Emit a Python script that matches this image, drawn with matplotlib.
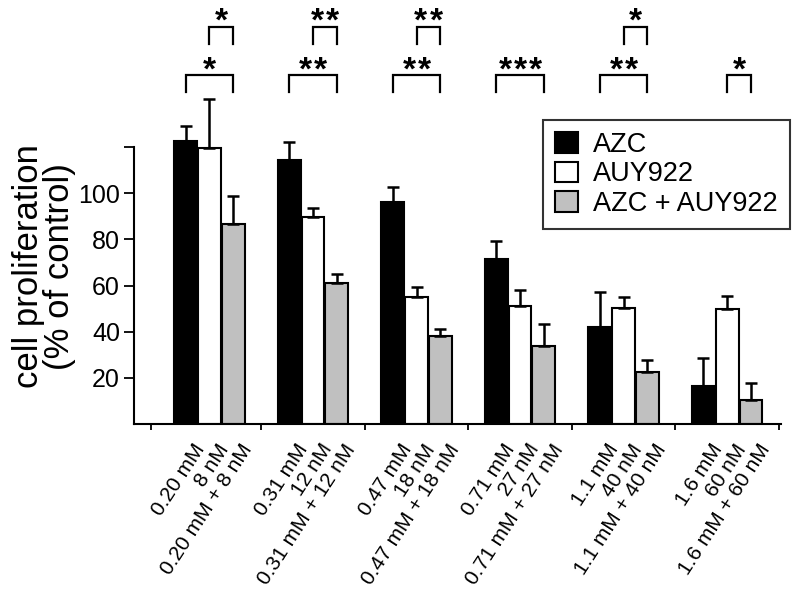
import numpy as np
import matplotlib
matplotlib.use("Agg")
import matplotlib.pyplot as plt
from matplotlib.transforms import ScaledTranslation

plt.rcParams['font.family'] = ['Liberation Sans', 'DejaVu Sans']

# data
series = ['AZC', 'AUY922', 'AZC + AUY922']
azc_mM = ['0.20 mM', '0.31 mM', '0.47 mM', '0.71 mM', '1.1 mM', '1.6 mM']
auy_nM = ['8 nM', '12 nM', '18 nM', '27 nM', '40 nM', '60 nM']
azc_mean = [122.8, 114.4, 96.2, 71.4, 41.9, 16.4]
azc_err = [6.4, 8.0, 6.7, 7.9, 15.3, 12.1]
auy_mean = [119.5, 89.7, 55.1, 51.1, 50.4, 49.8]
auy_err = [21.5, 3.9, 4.4, 6.9, 4.7, 5.6]
combo_mean = [86.7, 61.2, 38.1, 33.8, 22.5, 10.5]
combo_err = [12.1, 3.7, 2.9, 9.5, 5.2, 7.1]
yticks = [20, 40, 60, 80, 100, 120]
yticklabels = ['20', '40', '60', '80', '100', '']

# significance: (group, from bar, to bar, row, number of stars)   bars: 0 AZC, 1 AUY, 2 combo
sig = [
    (0, 1, 2, 1, 1), (0, 0, 2, 0, 1),
    (1, 1, 2, 1, 2), (1, 0, 2, 0, 2),
    (2, 1, 2, 1, 2), (2, 0, 2, 0, 2),
    (3, 0, 2, 0, 3),
    (4, 1, 2, 1, 1), (4, 0, 2, 0, 2),
    (5, 1, 2, 0, 1),
]


def plot_proliferation():
    fig = plt.figure(figsize=(8, 5.97), dpi=100)
    ax = fig.add_axes([0.1675, 0.29, 0.8088, 0.71])

    x = np.arange(len(azc_mM))
    width = 0.22
    offs = [-0.23, 0.0, 0.23]
    means = [azc_mean, auy_mean, combo_mean]
    errs = [azc_err, auy_err, combo_err]
    colors = ['black', 'white', '#c0c0c0']

    for k in range(3):
        e = np.array(errs[k])
        ax.bar(x + offs[k], means[k], width, color=colors[k], edgecolor='black',
               linewidth=1.5, label=series[k],
               yerr=[np.zeros_like(e), e], error_kw=dict(ecolor='black', elinewidth=1.8,
                                                          capsize=4.5, capthick=1.8),
               zorder=2)

    # brackets and stars
    rows = [151.3, 172.3]
    leg = 7.5
    step = 0.145
    for g, a, b, row, n in sig:
        x0, x1 = g + offs[a], g + offs[b]
        yb = rows[row]
        ax.plot([x0, x0, x1, x1], [yb - leg, yb, yb, yb - leg], color='black',
                lw=1.6, clip_on=False, solid_joinstyle='miter')
        xm = (x0 + x1) / 2
        for j in range(n):
            ax.text(xm + (j - (n - 1) / 2) * step, yb - 1.9, '*', ha='center',
                    va='baseline', fontsize=24, fontweight='bold', clip_on=False)

    ax.set_xlim(-0.728, 5.52)
    ax.set_ylim(0, 183.8)

    for s in ['top', 'right']:
        ax.spines[s].set_visible(False)
    ax.spines['left'].set_bounds(0, 120)
    ax.spines['left'].set_linewidth(1.5)
    ax.spines['bottom'].set_linewidth(1.5)

    ax.set_yticks(yticks)
    ax.set_yticklabels(yticklabels, fontsize=18)
    ax.tick_params(axis='y', length=7, width=1.3, pad=3)

    # group boundaries as major ticks, bar labels as minor ticks
    ax.set_xticks([-0.567, 0.5, 1.5, 2.5, 3.5, 4.5, 5.5])
    ax.set_xticklabels([])
    ax.tick_params(axis='x', which='major', length=4.5, width=1.3)

    pos, labs = [], []
    for i in range(len(azc_mM)):
        pos += [i + offs[0], i + offs[1], i + offs[2]]
        labs += [azc_mM[i], auy_nM[i], azc_mM[i] + ' + ' + auy_nM[i]]
    ax.set_xticks(pos, minor=True)
    ax.set_xticklabels(labs, minor=True, fontsize=15, rotation=57,
                       ha='right', va='top', rotation_mode='anchor')
    ax.tick_params(axis='x', which='minor', length=0, pad=12)
    shift = ScaledTranslation(0.07, 0, fig.dpi_scale_trans)
    for lab in ax.get_xticklabels(minor=True):
        lab.set_transform(lab.get_transform() + shift)

    fig.text(0.055, 0.554, 'cell proliferation\n(% of control)', rotation=90,
             ha='center', va='center', fontsize=25, linespacing=0.9)

    lg = ax.legend(loc='upper right', bbox_to_anchor=(1.014, 0.717), borderaxespad=0,
                   fontsize=19.5, frameon=True, fancybox=False, handlelength=0.85,
                   handleheight=0.8, handletextpad=0.55, labelspacing=0.12, borderpad=0.45)
    lg.get_frame().set_edgecolor('black')
    lg.get_frame().set_linewidth(1.5)

    fig.savefig('out.png', dpi=100)


if __name__ == "__main__":
    plot_proliferation()
